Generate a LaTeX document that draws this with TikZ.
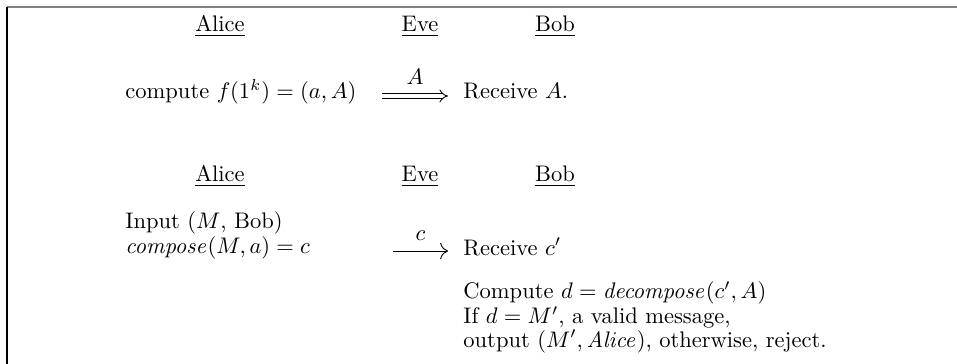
\documentclass[tikz,border=0pt]{standalone}
\usepackage{amsmath}
\usepackage{amssymb}
\usepackage{xcolor}
\usepackage{tikz}
\usetikzlibrary{positioning}
\usetikzlibrary{arrows.meta}

\begin{document}
\begin{tikzpicture}[
				x=0.444pt, y=-0.444pt,
				party/.style={anchor=base, inner sep=0pt},
				txt/.style={anchor=base west, inner sep=0pt},
				msg/.style={-{To[length=3.5pt]}, line width=0.4pt},
				dmsg/.style={-{Implies}, line width=0.4pt, double, double distance=1.6pt}
			]

			% Frame
			\useasboundingbox (0,0) rectangle (957,364);
			\draw[gray, line width=1pt] (7,7) -- (957,7);
			\draw[black, line width=0.7pt] (7,7) -- (7,364);

			% Key exchange
			\node[party] (alice1) at (220,32) {\underline{Alice}};
			\node[party] (eve1) at (420,32) {\underline{Eve}};
			\node[party] (bob1) at (555,32) {\underline{Bob}};

			\node[txt] (keygen) at (125,99) {compute $f(1^k)=(a,A)$};
			\node[txt] (recvA) at (463,99) {Receive $A$.};
			\coordinate (sA) at (382,96);
			\coordinate (eA) at (448,96);
			\draw[dmsg] (sA) -- (eA) node[midway, above=1.5pt] {$A$};

			% Message
			\node[party] (alice2) at (220,182) {\underline{Alice}};
			\node[party] (eve2) at (420,182) {\underline{Eve}};
			\node[party] (bob2) at (555,182) {\underline{Bob}};

			\node[txt] (input) at (125,229) {Input ($M$, Bob)};
			\node[txt] (comp) at (125,254) {$\mathit{compose}(M,a)=c$};
			\node[txt] (recvc) at (463,255) {Receive $c'$};
			\coordinate (sc) at (393,251);
			\coordinate (ec) at (448,251);
			\draw[msg] (sc) -- (ec) node[midway, above=1pt] {$c$};

			\node[anchor=north west, inner sep=0pt, align=left,
				font=\fontsize{10pt}{8.8pt}\selectfont] (dec) at (463,281)
				{Compute $d=\mathit{decompose}(c',A)$\\
				If $d=M'$, a valid message,\\
				output $(M',\mathit{Alice})$, otherwise, reject.};

		\end{tikzpicture}
\end{document}
